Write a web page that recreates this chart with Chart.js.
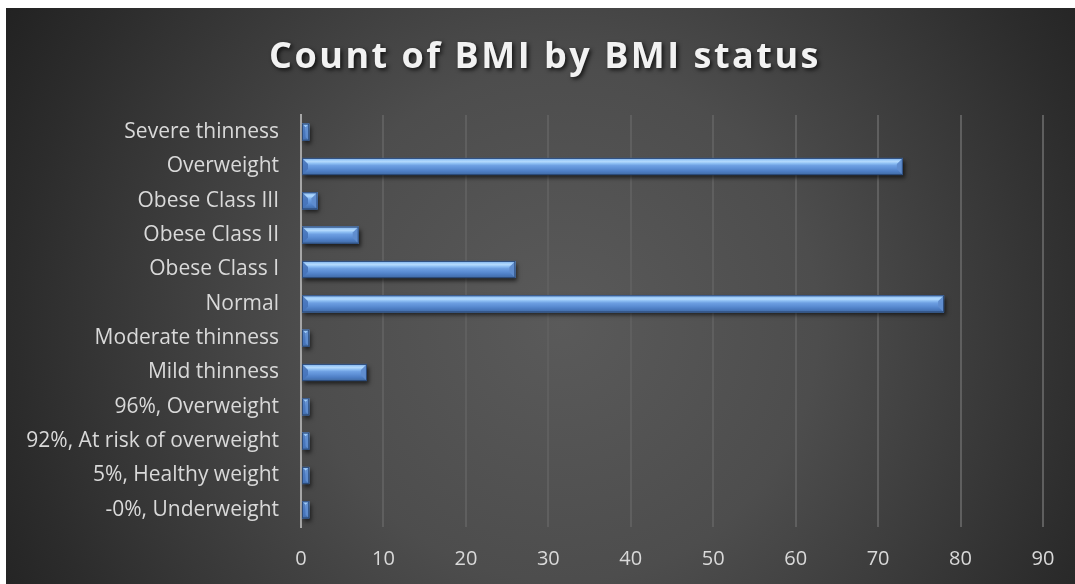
<!DOCTYPE html>
<html>
<head>
<meta charset="utf-8">
<script src="https://cdn.jsdelivr.net/npm/chart.js@4/dist/chart.umd.min.js"></script>
<style>
  html, body { margin: 0; padding: 0; background: #ffffff; }
  #wrap { position: absolute; left: 6px; top: 8px; width: 1069px; height: 576px; }
</style>
</head>
<body>
<div id="wrap"><canvas id="c" width="1069" height="576"></canvas></div>
<script>
const chartTitle = "Count of BMI by BMI status";
const categories = [
  "Severe thinness",
  "Overweight",
  "Obese Class III",
  "Obese Class II",
  "Obese Class I",
  "Normal",
  "Moderate thinness",
  "Mild thinness",
  "96%, Overweight",
  "92%, At risk of overweight",
  "5%, Healthy weight",
  "-0%, Underweight"
];
const counts = [1, 73, 2, 7, 26, 78, 1, 8, 1, 1, 1, 1];
const xMin = 0, xMax = 90, xStep = 10;

const bgPlugin = {
  id: 'bgPlugin',
  beforeDraw(chart) {
    const ctx = chart.ctx, w = chart.width, h = chart.height;
    const cx = w * 0.52, cy = h * 0.55;
    const r = Math.sqrt(cx * cx + cy * cy);
    const g = ctx.createRadialGradient(cx, cy, 0, cx, cy, r);
    g.addColorStop(0, '#5a5a5a');
    g.addColorStop(0.4, '#4d4d4d');
    g.addColorStop(0.85, '#2c2c2c');
    g.addColorStop(1, '#222222');
    ctx.save();
    ctx.fillStyle = g;
    ctx.fillRect(0, 0, w, h);
    ctx.restore();
  },
  afterLayout(chart) {
    const tb = chart.titleBlock;
    if (tb && !tb._shadowWrapped) {
      const orig = tb.draw.bind(tb);
      tb.draw = function (area) {
        const ctx = chart.ctx;
        ctx.save();
        ctx.translate(539 - (tb.left + tb.right) / 2, 0);
        ctx.letterSpacing = '2.5px';
        ctx.shadowColor = 'rgba(0,0,0,0.75)';
        ctx.shadowBlur = 4;
        ctx.shadowOffsetX = 2;
        ctx.shadowOffsetY = 2;
        orig(area);
        ctx.restore();
      };
      tb._shadowWrapped = true;
    }
  },
  beforeDatasetsDraw(chart) {
    const ctx = chart.ctx;
    ctx.save();
    ctx.shadowColor = 'rgba(0,0,0,0.6)';
    ctx.shadowBlur = 4;
    ctx.shadowOffsetX = 2;
    ctx.shadowOffsetY = 3;
  },
  afterDatasetsDraw(chart) {
    const ctx = chart.ctx;
    ctx.restore();
    const meta = chart.getDatasetMeta(0);
    meta.data.forEach((bar) => {
      const x0 = Math.min(bar.base, bar.x), x1 = Math.max(bar.base, bar.x);
      const t = bar.y - bar.height / 2, b = bar.y + bar.height / 2;
      const w = x1 - x0, h = b - t;
      if (w <= 0) return;
      const g = ctx.createLinearGradient(0, t, 0, b);
      g.addColorStop(0, '#6f9fe0');
      g.addColorStop(0.12, '#9ccaf8');
      g.addColorStop(0.22, '#b4dafd');
      g.addColorStop(0.32, '#8fc0f4');
      g.addColorStop(0.45, '#6d9fe2');
      g.addColorStop(0.62, '#5d8fd5');
      g.addColorStop(0.8, '#4c7cc2');
      g.addColorStop(1, '#40699f');
      ctx.save();
      ctx.fillStyle = g;
      ctx.fillRect(x0, t, w, h);
      const e = Math.min(6, h * 0.4, w / 2);
      ctx.fillStyle = 'rgba(70,115,185,0.9)';
      ctx.beginPath();
      ctx.moveTo(x0, t);
      ctx.lineTo(x0 + e, t + e);
      ctx.lineTo(x0 + e, b - e);
      ctx.lineTo(x0, b);
      ctx.closePath();
      ctx.fill();
      ctx.fillStyle = 'rgba(95,140,205,0.95)';
      ctx.beginPath();
      ctx.moveTo(x1, t);
      ctx.lineTo(x1 - e, t + e);
      ctx.lineTo(x1 - e, b - e);
      ctx.lineTo(x1, b);
      ctx.closePath();
      ctx.fill();
      ctx.strokeStyle = '#2b4a78';
      ctx.lineWidth = 1;
      ctx.strokeRect(x0 + 0.5, t + 0.5, w - 1, h - 1);
      ctx.restore();
    });
  }
};

new Chart(document.getElementById('c'), {
  type: 'bar',
  data: {
    labels: categories,
    datasets: [{
      label: 'Count of BMI',
      data: counts,
      backgroundColor: '#5b8fd6',
      borderWidth: 0,
      barPercentage: 0.5,
      categoryPercentage: 1
    }]
  },
  options: {
    indexAxis: 'y',
    responsive: false,
    animation: false,
    events: [],
    layout: { padding: { top: 0, right: 32, bottom: 13, left: 0 } },
    plugins: {
      legend: { display: false },
      tooltip: { enabled: false },
      title: {
        display: true,
        text: chartTitle,
        color: '#f2f2f2',
        font: { family: 'Open Sans', size: 36, weight: 'bold' },
        padding: { top: 28, bottom: 35.8 }
      }
    },
    scales: {
      x: {
        type: 'linear',
        min: xMin,
        max: xMax,
        ticks: {
          stepSize: xStep,
          color: '#d9d9d9',
          font: { family: 'Open Sans', size: 20 },
          padding: 20,
          maxRotation: 0
        },
        grid: { color: '#5f5f5f', lineWidth: 2, drawTicks: false },
        border: { display: false },
        afterFit(scale) { scale.height = 44; }
      },
      y: {
        type: 'category',
        ticks: {
          color: '#d9d9d9',
          font: { family: 'Open Sans', size: 21 },
          padding: 22,
          autoSkip: false
        },
        grid: { display: false, drawTicks: false },
        border: { display: true, color: '#a6a6a6', width: 2 },
        afterFit(scale) { scale.width = 295; }
      }
    }
  },
  plugins: [bgPlugin]
});
</script>
</body>
</html>
